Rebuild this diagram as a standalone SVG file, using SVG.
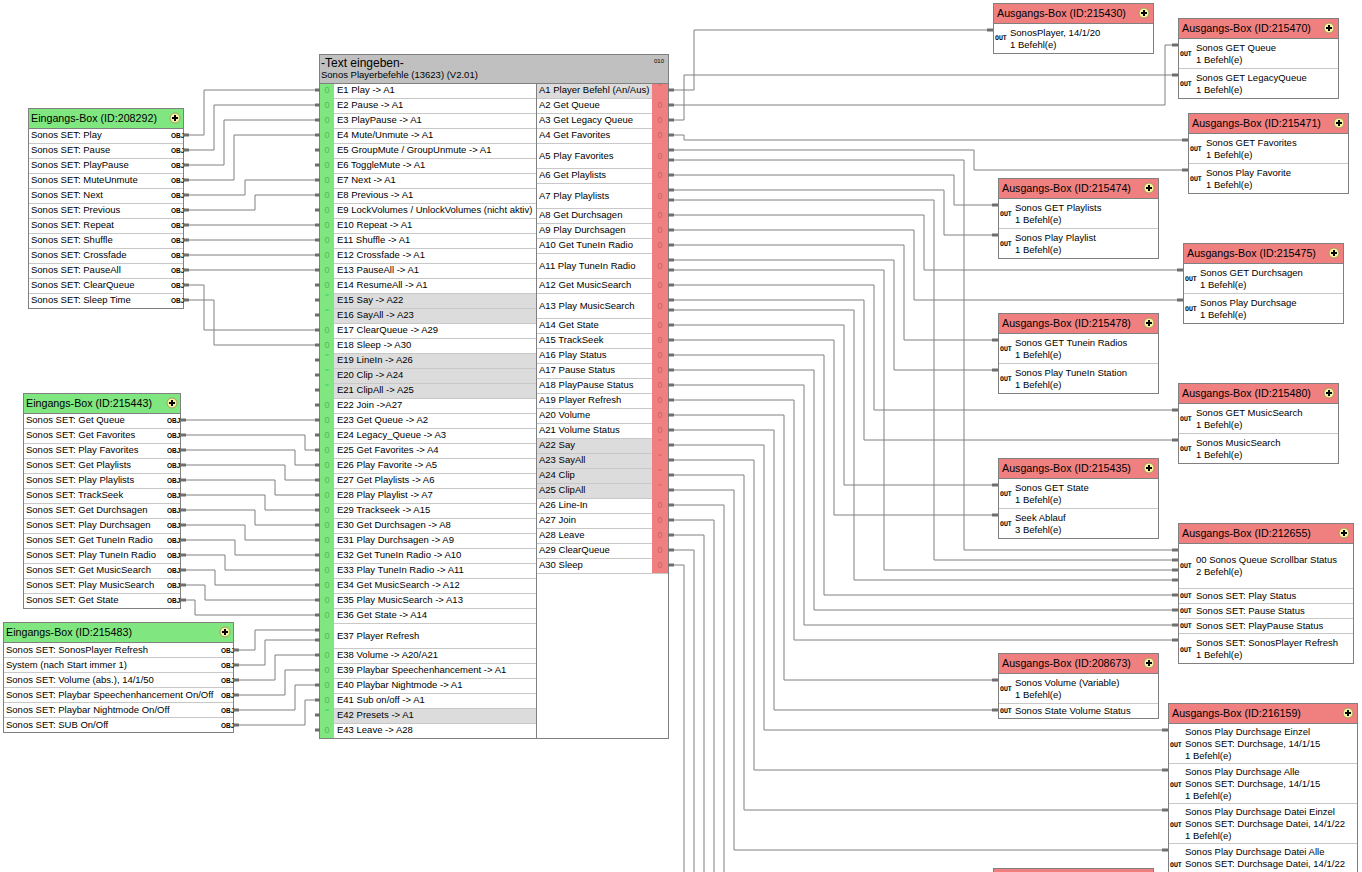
<svg xmlns="http://www.w3.org/2000/svg" width="1362" height="872" viewBox="0 0 1362 872">
<style>
text{font-family:"Liberation Sans",Arial,sans-serif;fill:#000}
.f9{font-size:9.5px}
.f11{font-size:10.7px}
.ft{font-size:12px}
.o{font-family:"DejaVu Sans Mono",monospace;font-size:6.5px;font-weight:bold}
.c{fill:none;stroke:#808080;stroke-width:1}
.p{stroke:#6e6e6e;stroke-width:3}
.bx{fill:#fff;stroke:#808080;stroke-width:1}
.hg{fill:#80e680;stroke:#808080;stroke-width:1}
.hr{fill:#f08080;stroke:#808080;stroke-width:1}
.sep{stroke:#c8c8c8;stroke-width:1;fill:none}
.z{font-size:9px;fill:#4cbf4c;text-anchor:middle}
.zr{font-size:9px;fill:#c86464;text-anchor:middle}
</style>
<defs>
<g id="plus"><circle r="5" fill="#f8f4a0" stroke="#a09a60"/><path d="M-3,0H3M0,-3V3" stroke="#000" stroke-width="2"/></g>
</defs>

<g id="connectors">
<path class="c" d="M189 135H204V90H315M189 150H214V105H315M189 165H224V120H315M189 180H234V135H315M189 195H245V180H315M189 210H255V195H315M189 225H315M189 240H315M189 255H315M189 270H315M189 285H204V330H315M189 300H214V345H315"/>
<path class="c" d="M186 420H315M186 435H305V450H315M186 450H295V465H315M186 465H285V480H315M186 480H275V495H315M186 495H265V510H315M186 510H255V525H315M186 525H245V540H315M186 540H235V555H315M186 555H225V570H315M186 570H215V585H315M186 585H205V600H315M186 600H195V615H315"/>
<path class="c" d="M239 650H255V630H315M239 665H265V640H315M239 680H275V655H315M239 695H285V670H315M239 710H295V685H315M239 725H305V700H315"/>
<path class="c" d="M674 90H694V30H987M674 105H1165V45H1172M674 120H684V75H1172M674 135H684V140H1182M674 150H974V170H1182M674 160H964V550H1172M674 175H954V205H992M674 190H944V235H992M674 200H934V560H1172M674 215H924V270H1177M674 230H914V300H1177M674 245H904V340H992M674 260H894V370H992M674 270H884V570H1172M674 285H874V410H1172M674 300H864V440H1172M674 310H854V580H1172M674 325H844V485H992M674 340H834V515H992M674 355H824V595H1172M674 370H814V610H1172M674 385H804V625H1172M674 400H794V640H1172M674 415H784V680H992M674 430H774V710H992M674 445H764V730H1162M674 460H754V770H1162M674 475H744V810H1162M674 490H734V850H1162M674 505H724V872M674 520H714V872M674 535H704V872M674 550H694V872M674 565H684V872"/>
</g>

<g id="block">
<rect x="319.5" y="54.5" width="349" height="684" fill="#fff" stroke="#808080"/>
<rect x="320" y="55" width="348" height="28" fill="#c0c0c0"/>
<text x="321" y="67" class="ft">-Text eingeben-</text>
<text x="321" y="78" class="f9">Sonos Playerbefehle (13623) (V2.01)</text>
<text x="654" y="63" font-size="6">010</text>
<rect x="320" y="84" width="14" height="654" fill="#80e680"/>
<rect x="334" y="293" width="202" height="30" fill="#dcdcdc"/>
<rect x="334" y="353" width="202" height="45" fill="#dcdcdc"/>
<rect x="334" y="708" width="202" height="15" fill="#dcdcdc"/>
<rect x="537" y="84" width="115" height="14" fill="#dcdcdc"/>
<rect x="537" y="438" width="115" height="60" fill="#dcdcdc"/>
<rect x="652" y="84" width="16" height="489" fill="#f08080"/>
<path class="sep" d="M334 98.5H536M334 113.5H536M334 128.5H536M334 143.5H536M334 158.5H536M334 173.5H536M334 188.5H536M334 203.5H536M334 218.5H536M334 233.5H536M334 248.5H536M334 263.5H536M334 278.5H536M334 293.5H536M334 308.5H536M334 323.5H536M334 338.5H536M334 353.5H536M334 368.5H536M334 383.5H536M334 398.5H536M334 413.5H536M334 428.5H536M334 443.5H536M334 458.5H536M334 473.5H536M334 488.5H536M334 503.5H536M334 518.5H536M334 533.5H536M334 548.5H536M334 563.5H536M334 578.5H536M334 593.5H536M334 608.5H536M334 623.5H536M334 648.5H536M334 663.5H536M334 678.5H536M334 693.5H536M334 708.5H536M334 723.5H536"/>
<path class="sep" d="M537 98.5H652M537 113.5H652M537 128.5H652M537 143.5H652M537 168.5H652M537 183.5H652M537 208.5H652M537 223.5H652M537 238.5H652M537 253.5H652M537 278.5H652M537 293.5H652M537 318.5H652M537 333.5H652M537 348.5H652M537 363.5H652M537 378.5H652M537 393.5H652M537 408.5H652M537 423.5H652M537 438.5H652M537 453.5H652M537 468.5H652M537 483.5H652M537 498.5H652M537 513.5H652M537 528.5H652M537 543.5H652M537 558.5H652M537 573.5H668"/>
<line x1="319.5" y1="83.5" x2="668.5" y2="83.5" stroke="#808080"/>
<line x1="536.5" y1="83.5" x2="536.5" y2="738" stroke="#808080"/>
<path class="p" d="M315 90H320M315 105H320M315 120H320M315 135H320M315 150H320M315 165H320M315 180H320M315 195H320M315 210H320M315 225H320M315 240H320M315 255H320M315 270H320M315 285H320M315 300H320M315 315H320M315 330H320M315 345H320M315 360H320M315 375H320M315 390H320M315 405H320M315 420H320M315 435H320M315 450H320M315 465H320M315 480H320M315 495H320M315 510H320M315 525H320M315 540H320M315 555H320M315 570H320M315 585H320M315 600H320M315 615H320M315 630H320M315 640H320M315 655H320M315 670H320M315 685H320M315 700H320M315 715H320M315 730H320"/>
<path class="p" d="M668 90H674M668 105H674M668 120H674M668 135H674M668 150H674M668 160H674M668 175H674M668 190H674M668 200H674M668 215H674M668 230H674M668 245H674M668 260H674M668 270H674M668 285H674M668 300H674M668 310H674M668 325H674M668 340H674M668 355H674M668 370H674M668 385H674M668 400H674M668 415H674M668 430H674M668 445H674M668 460H674M668 475H674M668 490H674M668 505H674M668 520H674M668 535H674M668 550H674M668 565H674"/>
<g class="f9">
<text x="337" y="93">E1 Play -&gt; A1</text>
<text x="337" y="108">E2 Pause -&gt; A1</text>
<text x="337" y="123">E3 PlayPause -&gt; A1</text>
<text x="337" y="138">E4 Mute/Unmute -&gt; A1</text>
<text x="337" y="153">E5 GroupMute / GroupUnmute -&gt; A1</text>
<text x="337" y="168">E6 ToggleMute -&gt; A1</text>
<text x="337" y="183">E7 Next -&gt; A1</text>
<text x="337" y="198">E8 Previous -&gt; A1</text>
<text x="337" y="213">E9 LockVolumes / UnlockVolumes (nicht aktiv)</text>
<text x="337" y="228">E10 Repeat -&gt; A1</text>
<text x="337" y="243">E11 Shuffle -&gt; A1</text>
<text x="337" y="258">E12 Crossfade -&gt; A1</text>
<text x="337" y="273">E13 PauseAll -&gt; A1</text>
<text x="337" y="288">E14 ResumeAll -&gt; A1</text>
<text x="337" y="303">E15 Say -&gt; A22</text>
<text x="337" y="318">E16 SayAll -&gt; A23</text>
<text x="337" y="333">E17 ClearQueue -&gt; A29</text>
<text x="337" y="348">E18 Sleep -&gt; A30</text>
<text x="337" y="363">E19 LineIn -&gt; A26</text>
<text x="337" y="378">E20 Clip -&gt; A24</text>
<text x="337" y="393">E21 ClipAll -&gt; A25</text>
<text x="337" y="408">E22 Join -&gt;A27</text>
<text x="337" y="423">E23 Get Queue -&gt; A2</text>
<text x="337" y="438">E24 Legacy_Queue -&gt; A3</text>
<text x="337" y="453">E25 Get Favorites -&gt; A4</text>
<text x="337" y="468">E26 Play Favorite -&gt; A5</text>
<text x="337" y="483">E27 Get Playlists -&gt; A6</text>
<text x="337" y="498">E28 Play Playlist -&gt; A7</text>
<text x="337" y="513">E29 Trackseek -&gt; A15</text>
<text x="337" y="528">E30 Get Durchsagen -&gt; A8</text>
<text x="337" y="543">E31 Play Durchsagen -&gt; A9</text>
<text x="337" y="558">E32 Get TuneIn Radio -&gt; A10</text>
<text x="337" y="573">E33 Play TuneIn Radio -&gt; A11</text>
<text x="337" y="588">E34 Get MusicSearch -&gt; A12</text>
<text x="337" y="603">E35 Play MusicSearch -&gt; A13</text>
<text x="337" y="618">E36 Get State -&gt; A14</text>
<text x="337" y="639">E37 Player Refresh</text>
<text x="337" y="658">E38 Volume -&gt; A20/A21</text>
<text x="337" y="673">E39 Playbar Speechenhancement -&gt; A1</text>
<text x="337" y="688">E40 Playbar Nightmode -&gt; A1</text>
<text x="337" y="703">E41 Sub on/off -&gt; A1</text>
<text x="337" y="718">E42 Presets -&gt; A1</text>
<text x="337" y="733">E43 Leave -&gt; A28</text>
<text x="539" y="93">A1 Player Befehl (An/Aus)</text>
<text x="539" y="108">A2 Get Queue</text>
<text x="539" y="123">A3 Get Legacy Queue</text>
<text x="539" y="138">A4 Get Favorites</text>
<text x="539" y="158.5">A5 Play Favorites</text>
<text x="539" y="178">A6 Get Playlists</text>
<text x="539" y="198.5">A7 Play Playlists</text>
<text x="539" y="218">A8 Get Durchsagen</text>
<text x="539" y="233">A9 Play Durchsagen</text>
<text x="539" y="248">A10 Get TuneIn Radio</text>
<text x="539" y="268.5">A11 Play TuneIn Radio</text>
<text x="539" y="288">A12 Get MusicSearch</text>
<text x="539" y="308.5">A13 Play MusicSearch</text>
<text x="539" y="328">A14 Get State</text>
<text x="539" y="343">A15 TrackSeek</text>
<text x="539" y="358">A16 Play Status</text>
<text x="539" y="373">A17 Pause Status</text>
<text x="539" y="388">A18 PlayPause Status</text>
<text x="539" y="403">A19 Player Refresh</text>
<text x="539" y="418">A20 Volume</text>
<text x="539" y="433">A21 Volume Status</text>
<text x="539" y="448">A22 Say</text>
<text x="539" y="463">A23 SayAll</text>
<text x="539" y="478">A24 Clip</text>
<text x="539" y="493">A25 ClipAll</text>
<text x="539" y="508">A26 Line-In</text>
<text x="539" y="523">A27 Join</text>
<text x="539" y="538">A28 Leave</text>
<text x="539" y="553">A29 ClearQueue</text>
<text x="539" y="568">A30 Sleep</text>
</g>
<g>
<text class="z" x="327" y="93">0</text><text class="z" x="327" y="108">0</text><text class="z" x="327" y="123">0</text><text class="z" x="327" y="138">0</text><text class="z" x="327" y="153">0</text><text class="z" x="327" y="168">0</text><text class="z" x="327" y="183">0</text><text class="z" x="327" y="198">0</text><text class="z" x="327" y="213">0</text><text class="z" x="327" y="228">0</text><text class="z" x="327" y="243">0</text><text class="z" x="327" y="258">0</text><text class="z" x="327" y="273">0</text><text class="z" x="327" y="288">0</text><text class="z" x="327" y="300">''</text><text class="z" x="327" y="315">''</text><text class="z" x="327" y="333">0</text><text class="z" x="327" y="348">0</text><text class="z" x="327" y="360">''</text><text class="z" x="327" y="375">''</text><text class="z" x="327" y="390">''</text><text class="z" x="327" y="408">0</text><text class="z" x="327" y="423">0</text><text class="z" x="327" y="438">0</text><text class="z" x="327" y="453">0</text><text class="z" x="327" y="468">0</text><text class="z" x="327" y="483">0</text><text class="z" x="327" y="498">0</text><text class="z" x="327" y="513">0</text><text class="z" x="327" y="528">0</text><text class="z" x="327" y="543">0</text><text class="z" x="327" y="558">0</text><text class="z" x="327" y="573">0</text><text class="z" x="327" y="588">0</text><text class="z" x="327" y="603">0</text><text class="z" x="327" y="618">0</text><text class="z" x="327" y="639">0</text><text class="z" x="327" y="658">0</text><text class="z" x="327" y="673">0</text><text class="z" x="327" y="688">0</text><text class="z" x="327" y="703">0</text><text class="z" x="327" y="715">''</text><text class="z" x="327" y="733">0</text>
<text class="zr" x="660" y="90">''</text><text class="zr" x="660" y="108">0</text><text class="zr" x="660" y="123">0</text><text class="zr" x="660" y="138">0</text><text class="zr" x="660" y="158.5">0</text><text class="zr" x="660" y="178">0</text><text class="zr" x="660" y="198.5">0</text><text class="zr" x="660" y="218">0</text><text class="zr" x="660" y="233">0</text><text class="zr" x="660" y="248">0</text><text class="zr" x="660" y="268.5">0</text><text class="zr" x="660" y="288">0</text><text class="zr" x="660" y="308.5">0</text><text class="zr" x="660" y="328">0</text><text class="zr" x="660" y="343">0</text><text class="zr" x="660" y="358">0</text><text class="zr" x="660" y="373">0</text><text class="zr" x="660" y="388">0</text><text class="zr" x="660" y="403">0</text><text class="zr" x="660" y="418">0</text><text class="zr" x="660" y="433">0</text><text class="zr" x="660" y="445">''</text><text class="zr" x="660" y="460">''</text><text class="zr" x="660" y="475">''</text><text class="zr" x="660" y="490">''</text><text class="zr" x="660" y="508">0</text><text class="zr" x="660" y="523">0</text><text class="zr" x="660" y="538">0</text><text class="zr" x="660" y="553">0</text><text class="zr" x="660" y="568">0</text>
</g>
</g>

<g id="in208292">
<rect class="bx" x="28.5" y="108.5" width="155" height="200"/>
<rect class="hg" x="28.5" y="108.5" width="155" height="20"/>
<text class="f11" x="31" y="122">Eingangs-Box (ID:208292)</text>
<use href="#plus" x="175" y="118"/>
<path class="sep" d="M29 143.5H183M29 158.5H183M29 173.5H183M29 188.5H183M29 203.5H183M29 218.5H183M29 233.5H183M29 248.5H183M29 263.5H183M29 278.5H183M29 293.5H183"/>
<g class="f9">
<text x="31" y="138">Sonos SET: Play</text><text x="31" y="153">Sonos SET: Pause</text><text x="31" y="168">Sonos SET: PlayPause</text><text x="31" y="183">Sonos SET: MuteUnmute</text><text x="31" y="198">Sonos SET: Next</text><text x="31" y="213">Sonos SET: Previous</text><text x="31" y="228">Sonos SET: Repeat</text><text x="31" y="243">Sonos SET: Shuffle</text><text x="31" y="258">Sonos SET: Crossfade</text><text x="31" y="273">Sonos SET: PauseAll</text><text x="31" y="288">Sonos SET: ClearQueue</text><text x="31" y="303">Sonos SET: Sleep Time</text>
</g>
<g class="o"><text x="171" y="137.5">OBJ</text><text x="171" y="152.5">OBJ</text><text x="171" y="167.5">OBJ</text><text x="171" y="182.5">OBJ</text><text x="171" y="197.5">OBJ</text><text x="171" y="212.5">OBJ</text><text x="171" y="227.5">OBJ</text><text x="171" y="242.5">OBJ</text><text x="171" y="257.5">OBJ</text><text x="171" y="272.5">OBJ</text><text x="171" y="287.5">OBJ</text><text x="171" y="302.5">OBJ</text></g>
<path class="p" d="M183 135H189M183 150H189M183 165H189M183 180H189M183 195H189M183 210H189M183 225H189M183 240H189M183 255H189M183 270H189M183 285H189M183 300H189"/>
</g>

<g id="in215443">
<rect class="bx" x="23.5" y="393.5" width="157" height="215"/>
<rect class="hg" x="23.5" y="393.5" width="157" height="20"/>
<text class="f11" x="26" y="407">Eingangs-Box (ID:215443)</text>
<use href="#plus" x="172" y="403"/>
<path class="sep" d="M24 428.5H180M24 443.5H180M24 458.5H180M24 473.5H180M24 488.5H180M24 503.5H180M24 518.5H180M24 533.5H180M24 548.5H180M24 563.5H180M24 578.5H180M24 593.5H180"/>
<g class="f9">
<text x="26" y="423">Sonos SET: Get Queue</text><text x="26" y="438">Sonos SET: Get Favorites</text><text x="26" y="453">Sonos SET: Play Favorites</text><text x="26" y="468">Sonos SET: Get Playlists</text><text x="26" y="483">Sonos SET: Play Playlists</text><text x="26" y="498">Sonos SET: TrackSeek</text><text x="26" y="513">Sonos SET: Get Durchsagen</text><text x="26" y="528">Sonos SET: Play Durchsagen</text><text x="26" y="543">Sonos SET: Get TuneIn Radio</text><text x="26" y="558">Sonos SET: Play TuneIn Radio</text><text x="26" y="573">Sonos SET: Get MusicSearch</text><text x="26" y="588">Sonos SET: Play MusicSearch</text><text x="26" y="603">Sonos SET: Get State</text>
</g>
<g class="o"><text x="167" y="422.5">OBJ</text><text x="167" y="437.5">OBJ</text><text x="167" y="452.5">OBJ</text><text x="167" y="467.5">OBJ</text><text x="167" y="482.5">OBJ</text><text x="167" y="497.5">OBJ</text><text x="167" y="512.5">OBJ</text><text x="167" y="527.5">OBJ</text><text x="167" y="542.5">OBJ</text><text x="167" y="557.5">OBJ</text><text x="167" y="572.5">OBJ</text><text x="167" y="587.5">OBJ</text><text x="167" y="602.5">OBJ</text></g>
<path class="p" d="M180 420H186M180 435H186M180 450H186M180 465H186M180 480H186M180 495H186M180 510H186M180 525H186M180 540H186M180 555H186M180 570H186M180 585H186M180 600H186"/>
</g>

<g id="in215483">
<rect class="bx" x="3.5" y="622.5" width="230" height="110"/>
<rect class="hg" x="3.5" y="622.5" width="230" height="20"/>
<text class="f11" x="6" y="636">Eingangs-Box (ID:215483)</text>
<use href="#plus" x="225" y="632"/>
<path class="sep" d="M4 657.5H233M4 672.5H233M4 687.5H233M4 702.5H233M4 717.5H233"/>
<g class="f9">
<text x="6" y="653">Sonos SET: SonosPlayer Refresh</text><text x="6" y="668">System (nach Start immer 1)</text><text x="6" y="683">Sonos SET: Volume (abs.), 14/1/50</text><text x="6" y="698">Sonos SET: Playbar Speechenhancement On/Off</text><text x="6" y="713">Sonos SET: Playbar Nightmode On/Off</text><text x="6" y="728">Sonos SET: SUB On/Off</text>
</g>
<g class="o"><text x="221" y="652.5">OBJ</text><text x="221" y="667.5">OBJ</text><text x="221" y="682.5">OBJ</text><text x="221" y="697.5">OBJ</text><text x="221" y="712.5">OBJ</text><text x="221" y="727.5">OBJ</text></g>
<path class="p" d="M233 650H239M233 665H239M233 680H239M233 695H239M233 710H239M233 725H239"/>
</g>

<g id="out215430">
<rect class="bx" x="993.5" y="3.5" width="160" height="50"/>
<rect class="hr" x="993.5" y="3.5" width="160" height="20"/>
<text class="f11" x="997" y="17">Ausgangs-Box (ID:215430)</text>
<use href="#plus" x="1144" y="13"/>
<text class="o" x="995" y="40">OUT</text>
<text class="f9" x="1010" y="36">SonosPlayer, 14/1/20</text><text class="f9" x="1010" y="48">1 Befehl(e)</text>
<path class="p" d="M987 30H993"/>
</g>

<g id="out215470">
<rect class="bx" x="1178.5" y="18.5" width="160" height="80"/>
<rect class="hr" x="1178.5" y="18.5" width="160" height="20"/>
<text class="f11" x="1182" y="32">Ausgangs-Box (ID:215470)</text>
<use href="#plus" x="1329" y="28"/>
<path class="sep" d="M1179 68.5H1338"/>
<text class="o" x="1180" y="56">OUT</text><text class="o" x="1180" y="86">OUT</text>
<text class="f9" x="1196" y="51">Sonos GET Queue</text><text class="f9" x="1196" y="63">1 Befehl(e)</text>
<text class="f9" x="1196" y="81">Sonos GET LegacyQueue</text><text class="f9" x="1196" y="93">1 Befehl(e)</text>
<path class="p" d="M1172 45H1178M1172 75H1178"/>
</g>

<g id="out215471">
<rect class="bx" x="1188.5" y="113.5" width="160" height="80"/>
<rect class="hr" x="1188.5" y="113.5" width="160" height="20"/>
<text class="f11" x="1192" y="127">Ausgangs-Box (ID:215471)</text>
<use href="#plus" x="1339" y="123"/>
<path class="sep" d="M1189 163.5H1348"/>
<text class="o" x="1190" y="151">OUT</text><text class="o" x="1190" y="181">OUT</text>
<text class="f9" x="1206" y="146">Sonos GET Favorites</text><text class="f9" x="1206" y="158">1 Befehl(e)</text>
<text class="f9" x="1206" y="176">Sonos Play Favorite</text><text class="f9" x="1206" y="188">1 Befehl(e)</text>
<path class="p" d="M1182 140H1188M1182 170H1188"/>
</g>

<g id="out215474">
<rect class="bx" x="998.5" y="178.5" width="160" height="80"/>
<rect class="hr" x="998.5" y="178.5" width="160" height="20"/>
<text class="f11" x="1002" y="192">Ausgangs-Box (ID:215474)</text>
<use href="#plus" x="1149" y="188"/>
<path class="sep" d="M999 228.5H1158"/>
<text class="o" x="1000" y="216">OUT</text><text class="o" x="1000" y="246">OUT</text>
<text class="f9" x="1015" y="211">Sonos GET Playlists</text><text class="f9" x="1015" y="223">1 Befehl(e)</text>
<text class="f9" x="1015" y="241">Sonos Play Playlist</text><text class="f9" x="1015" y="253">1 Befehl(e)</text>
<path class="p" d="M992 205H998M992 235H998"/>
</g>

<g id="out215475">
<rect class="bx" x="1183.5" y="243.5" width="160" height="80"/>
<rect class="hr" x="1183.5" y="243.5" width="160" height="20"/>
<text class="f11" x="1187" y="257">Ausgangs-Box (ID:215475)</text>
<use href="#plus" x="1334" y="253"/>
<path class="sep" d="M1184 293.5H1343"/>
<text class="o" x="1185" y="281">OUT</text><text class="o" x="1185" y="311">OUT</text>
<text class="f9" x="1200" y="276">Sonos GET Durchsagen</text><text class="f9" x="1200" y="288">1 Befehl(e)</text>
<text class="f9" x="1200" y="306">Sonos Play Durchsage</text><text class="f9" x="1200" y="318">1 Befehl(e)</text>
<path class="p" d="M1177 270H1183M1177 300H1183"/>
</g>

<g id="out215478">
<rect class="bx" x="998.5" y="313.5" width="160" height="80"/>
<rect class="hr" x="998.5" y="313.5" width="160" height="20"/>
<text class="f11" x="1002" y="327">Ausgangs-Box (ID:215478)</text>
<use href="#plus" x="1149" y="323"/>
<path class="sep" d="M999 363.5H1158"/>
<text class="o" x="1000" y="351">OUT</text><text class="o" x="1000" y="381">OUT</text>
<text class="f9" x="1015" y="346">Sonos GET Tunein Radios</text><text class="f9" x="1015" y="358">1 Befehl(e)</text>
<text class="f9" x="1015" y="376">Sonos Play TuneIn Station</text><text class="f9" x="1015" y="388">1 Befehl(e)</text>
<path class="p" d="M992 340H998M992 370H998"/>
</g>

<g id="out215480">
<rect class="bx" x="1178.5" y="383.5" width="160" height="80"/>
<rect class="hr" x="1178.5" y="383.5" width="160" height="20"/>
<text class="f11" x="1182" y="397">Ausgangs-Box (ID:215480)</text>
<use href="#plus" x="1329" y="393"/>
<path class="sep" d="M1179 433.5H1338"/>
<text class="o" x="1180" y="421">OUT</text><text class="o" x="1180" y="451">OUT</text>
<text class="f9" x="1196" y="416">Sonos GET MusicSearch</text><text class="f9" x="1196" y="428">1 Befehl(e)</text>
<text class="f9" x="1196" y="446">Sonos MusicSearch</text><text class="f9" x="1196" y="458">1 Befehl(e)</text>
<path class="p" d="M1172 410H1178M1172 440H1178"/>
</g>

<g id="out215435">
<rect class="bx" x="998.5" y="458.5" width="160" height="80"/>
<rect class="hr" x="998.5" y="458.5" width="160" height="20"/>
<text class="f11" x="1002" y="472">Ausgangs-Box (ID:215435)</text>
<use href="#plus" x="1149" y="468"/>
<path class="sep" d="M999 508.5H1158"/>
<text class="o" x="1000" y="496">OUT</text><text class="o" x="1000" y="526">OUT</text>
<text class="f9" x="1015" y="491">Sonos GET State</text><text class="f9" x="1015" y="503">1 Befehl(e)</text>
<text class="f9" x="1015" y="521">Seek Ablauf</text><text class="f9" x="1015" y="533">3 Befehl(e)</text>
<path class="p" d="M992 485H998M992 515H998"/>
</g>

<g id="out212655">
<rect class="bx" x="1178.5" y="523.5" width="175" height="140"/>
<rect class="hr" x="1178.5" y="523.5" width="175" height="20"/>
<text class="f11" x="1182" y="537">Ausgangs-Box (ID:212655)</text>
<use href="#plus" x="1344" y="533"/>
<path class="sep" d="M1179 588.5H1353M1179 603.5H1353M1179 618.5H1353M1179 633.5H1353"/>
<text class="o" x="1180" y="568">OUT</text><text class="o" x="1180" y="598">OUT</text><text class="o" x="1180" y="613">OUT</text><text class="o" x="1180" y="628">OUT</text><text class="o" x="1180" y="652">OUT</text>
<text class="f9" x="1196" y="563">00 Sonos Queue Scrollbar Status</text><text class="f9" x="1196" y="575">2 Befehl(e)</text>
<text class="f9" x="1196" y="598.5">Sonos SET: Play Status</text>
<text class="f9" x="1196" y="613.5">Sonos SET: Pause Status</text>
<text class="f9" x="1196" y="628.5">Sonos SET: PlayPause Status</text>
<text class="f9" x="1196" y="646">Sonos SET: SonosPlayer Refresh</text><text class="f9" x="1196" y="658">1 Befehl(e)</text>
<path class="p" d="M1172 550H1178M1172 560H1178M1172 570H1178M1172 580H1178M1172 595H1178M1172 610H1178M1172 625H1178M1172 640H1178"/>
</g>

<g id="out208673">
<rect class="bx" x="998.5" y="653.5" width="160" height="65"/>
<rect class="hr" x="998.5" y="653.5" width="160" height="20"/>
<text class="f11" x="1002" y="667">Ausgangs-Box (ID:208673)</text>
<use href="#plus" x="1149" y="663"/>
<path class="sep" d="M999 703.5H1158"/>
<text class="o" x="1000" y="691">OUT</text><text class="o" x="1000" y="713">OUT</text>
<text class="f9" x="1015" y="686">Sonos Volume (Variable)</text><text class="f9" x="1015" y="698">1 Befehl(e)</text>
<text class="f9" x="1015" y="714">Sonos State Volume Status</text>
<path class="p" d="M992 680H998M992 710H998"/>
</g>

<g id="out216159">
<rect class="bx" x="1168.5" y="703.5" width="189" height="190"/>
<rect class="hr" x="1168.5" y="703.5" width="189" height="20"/>
<text class="f11" x="1172" y="717">Ausgangs-Box (ID:216159)</text>
<use href="#plus" x="1348" y="713"/>
<path class="sep" d="M1169 763.5H1357M1169 803.5H1357M1169 843.5H1357"/>
<text class="o" x="1170" y="747">OUT</text><text class="o" x="1170" y="787">OUT</text><text class="o" x="1170" y="827">OUT</text><text class="o" x="1170" y="867">OUT</text>
<g class="f9">
<text x="1185" y="735">Sonos Play Durchsage Einzel</text><text x="1185" y="747">Sonos SET: Durchsage, 14/1/15</text><text x="1185" y="759">1 Befehl(e)</text>
<text x="1185" y="775">Sonos Play Durchsage Alle</text><text x="1185" y="787">Sonos SET: Durchsage, 14/1/15</text><text x="1185" y="799">1 Befehl(e)</text>
<text x="1185" y="815">Sonos Play Durchsage Datei Einzel</text><text x="1185" y="827">Sonos SET: Durchsage Datei, 14/1/22</text><text x="1185" y="839">1 Befehl(e)</text>
<text x="1185" y="855">Sonos Play Durchsage Datei Alle</text><text x="1185" y="867">Sonos SET: Durchsage Datei, 14/1/22</text>
</g>
<path class="p" d="M1162 730H1168M1162 770H1168M1162 810H1168M1162 850H1168"/>
</g>

<g id="outPartial">
<rect class="hr" x="993.5" y="868.5" width="160" height="20"/>
</g>
</svg>
